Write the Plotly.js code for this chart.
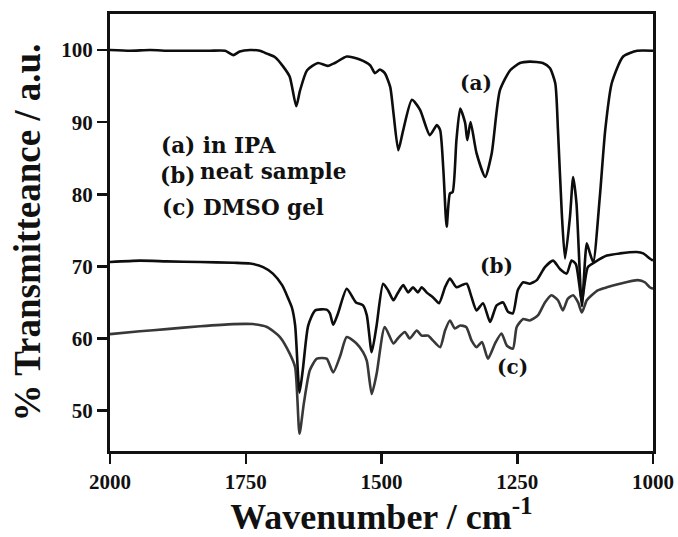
<!DOCTYPE html>
<html>
<head>
<meta charset="utf-8">
<script src="https://cdn.plot.ly/plotly-3.0.1.min.js"></script>
<style>html,body{margin:0;padding:0;background:#fff;}#chart{width:678px;height:537px;}</style>
</head>
<body>
<div id="chart"></div>
<script>
// (a) in IPA
const waveA = [2000,1963,1926,1890,1853,1816,1788,1773,1761,1742,1724,1711,1696,1681,1669,1657,1650,1637,1617,1599,1586,1564,1540,1521,1512,1503,1494,1484,1478,1469,1460,1444,1429,1411,1398,1392,1386,1380,1374,1369,1362,1355,1346,1342,1336,1325,1309,1297,1282,1263,1245,1227,1203,1190,1180,1175,1168,1162,1153,1147,1141,1131,1122,1116,1110,1098,1088,1076,1055,1029,1000];
const transA = [100.0,99.9,100.0,99.9,99.9,99.9,99.9,99.3,99.8,100.0,99.9,99.5,99.0,97.7,96.3,92.2,94.4,97.2,98.2,97.8,98.2,99.1,98.7,97.9,96.8,97.3,96.8,94.9,91.3,86.1,88.9,93.1,91.7,88.2,89.6,88.9,83.3,75.5,80.1,80.3,87.5,91.9,89.9,87.5,90.0,85.7,82.4,85.7,94.4,97.2,98.2,98.4,98.2,97.5,95.4,88.9,77.4,71.1,76.8,82.4,78.8,64.5,73.2,71.8,70.6,79.6,88.9,95.4,99.1,99.9,99.9];
// (b) neat sample
const waveB = [2000,1945,1896,1834,1773,1742,1718,1700,1683,1672,1665,1659,1651,1645,1635,1622,1601,1595,1589,1580,1564,1547,1534,1527,1518,1509,1497,1488,1478,1470,1460,1451,1442,1433,1426,1417,1405,1394,1383,1374,1362,1352,1343,1334,1325,1313,1300,1288,1276,1267,1258,1249,1239,1227,1214,1199,1184,1171,1159,1150,1142,1131,1120,1107,1085,1061,1030,1018,1006,1000];
const transB = [70.6,70.8,70.7,70.6,70.5,70.4,69.9,69.0,67.4,65.6,64.3,61.8,52.5,55.6,61.8,63.9,64.0,63.5,61.9,63.5,66.9,65.0,64.6,63.2,58.1,61.8,67.6,66.7,65.3,66.3,67.4,66.4,67.1,66.4,67.1,66.4,65.7,64.9,67.1,68.3,67.1,67.4,67.6,65.7,63.9,64.9,62.3,64.6,65.0,63.7,63.5,66.7,67.8,67.6,68.1,69.9,70.8,69.6,69.0,70.8,70.3,65.3,69.9,70.6,71.5,71.8,72.0,71.8,71.1,70.8];
// (c) DMSO gel
const waveC = [2000,1945,1896,1834,1773,1737,1711,1687,1669,1659,1651,1643,1632,1619,1601,1589,1576,1564,1546,1534,1527,1518,1509,1494,1478,1470,1457,1448,1435,1426,1414,1405,1392,1383,1374,1365,1355,1344,1334,1325,1315,1304,1291,1279,1269,1258,1251,1239,1227,1212,1199,1187,1175,1166,1157,1147,1138,1131,1122,1113,1101,1085,1061,1028,1015,1006,1000];
const transC = [60.6,61.0,61.3,61.7,62.0,62.0,61.6,60.2,57.9,56.0,46.8,51.0,55.6,57.2,57.2,55.3,57.6,60.2,59.3,58.1,56.9,52.3,55.1,61.6,59.3,60.0,60.9,60.0,61.1,60.4,60.4,59.7,58.8,61.1,62.5,61.4,61.8,61.6,59.7,58.8,59.5,57.2,59.3,60.7,59.0,58.6,61.6,62.7,62.5,63.2,65.0,66.0,65.3,63.9,65.5,66.0,65.0,63.6,65.3,66.0,66.7,67.1,67.6,68.1,67.8,67.1,66.9];

const xTicks = [2000,1750,1500,1250,1000];
const yTicks = [50,60,70,80,90,100];

const serif = 'Liberation Serif, Times New Roman, serif';
const wide = 'DejaVu Serif, serif';
function tr(x, y, color) {
  return {x: x, y: y, type: 'scatter', mode: 'lines',
    line: {color: color, width: 2.6, shape: 'spline', smoothing: 0.6},
    hoverinfo: 'skip', showlegend: false};
}
const data = [tr(waveC, transC, '#383838'), tr(waveB, transB, '#0d0d0d'), tr(waveA, transA, '#0d0d0d')];

const txt = (t, x, y, anchor, size) => ({text: t, x: x, y: y, xref: 'x', yref: 'y', showarrow: false,
  xanchor: anchor, yanchor: 'middle', font: {family: wide, size: size, color: '#111'}});

const layout = {
  width: 678, height: 537,
  margin: {l: 110, r: 25, t: 14, b: 86},
  paper_bgcolor: '#fff', plot_bgcolor: '#fff',
  xaxis: {range: [2000, 1000], tickvals: xTicks, ticktext: xTicks.map(String),
    ticks: 'outside', ticklen: 10, tickwidth: 2.5, tickcolor: '#111',
    showline: true, linewidth: 3, linecolor: '#111', mirror: true,
    showgrid: false, zeroline: false,
    tickfont: {family: serif, size: 21, color: '#111', weight: 'bold'},
    title: {text: '<b>Wavenumber / cm<sup>-1</sup></b>', font: {family: serif, size: 36, color: '#111'}, standoff: 5}},
  yaxis: {range: [44.4, 105], tickvals: yTicks, ticktext: yTicks.map(String),
    ticks: 'outside', ticklen: 10, tickwidth: 2.5, tickcolor: '#111',
    showline: true, linewidth: 3, linecolor: '#111', mirror: true,
    showgrid: false, zeroline: false,
    tickfont: {family: serif, size: 21, color: '#111', weight: 'bold'},
    title: {text: '<b>% Transmitteance / a.u.</b>', font: {family: serif, size: 37, color: '#111'}, standoff: 10}},
  annotations: [
    txt('<b>(a) in IPA</b>', 1910, 86.8, 'left', 21.5),
    txt('<b>(b)</b>', 1912, 82.6, 'left', 21.5),
    txt('<b>neat sample</b>', 1838, 83.2, 'left', 21.5),
    txt('<b>(c) DMSO gel</b>', 1908, 78.1, 'left', 21.5),
    txt('<b>(a)</b>', 1326, 95.4, 'center', 20),
    txt('<b>(b)</b>', 1289, 70.1, 'center', 20),
    txt('<b>(c)</b>', 1258, 56.0, 'center', 20)
  ]
};
Plotly.newPlot('chart', data, layout, {displayModeBar: false, staticPlot: true});
</script>
</body>
</html>
